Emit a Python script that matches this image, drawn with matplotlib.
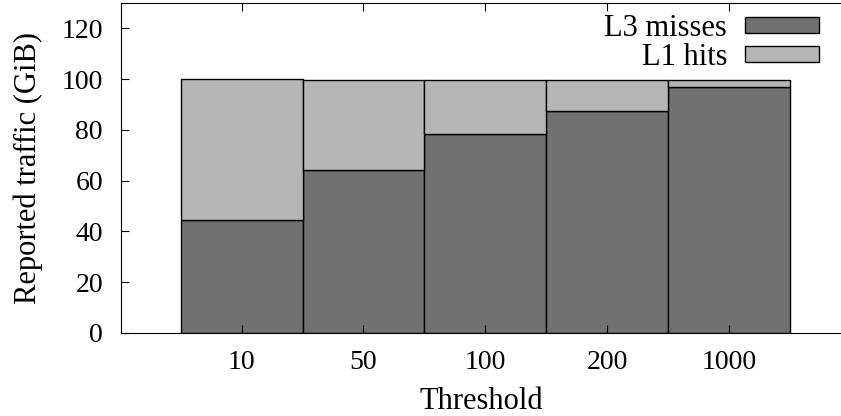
import matplotlib.pyplot as plt
from matplotlib.patches import Patch

plt.rcParams['font.family'] = ['Liberation Serif', 'DejaVu Serif']

# Data
thresholds = ['10', '50', '100', '200', '1000']
l3_misses = [44.6, 64.3, 78.2, 87.4, 96.9]
l1_hits = [55.4, 35.4, 21.6, 12.3, 2.8]

dark = '#717171'
light = '#b6b6b6'

fig = plt.figure(figsize=(8.41, 4.16), dpi=100)
ax = fig.add_axes([121/841, (416-333)/416, 1 - 121/841, 330/416])

x = range(len(thresholds))
ax.bar(x, l3_misses, width=1.0, color=dark, edgecolor='black', linewidth=1)
ax.bar(x, l1_hits, width=1.0, bottom=l3_misses, color=light, edgecolor='black', linewidth=1)

ax.set_xlim(-0.99, 4.92)
ax.set_ylim(0, 130)
ax.set_yticks(range(0, 121, 20))
ax.set_xticks(list(x))
ax.set_xticklabels(thresholds)
ax.spines['right'].set_visible(False)
ax.tick_params(axis='y', direction='in', length=6, labelsize=20, pad=13, right=False)
ax.tick_params(axis='x', direction='in', length=6, labelsize=20, pad=12.5, top=True)
ax.set_xlabel('Threshold', fontsize=22, labelpad=8.5)
ax.set_ylabel('Reported traffic (GiB)', fontsize=22, labelpad=13)

handles = [Patch(facecolor=dark, edgecolor='black', linewidth=1),
           Patch(facecolor=light, edgecolor='black', linewidth=1)]
ax.legend(handles, ['L3 misses', 'L1 hits'], loc='upper right',
          bbox_to_anchor=(0.969, 0.967), frameon=False, markerfirst=False,
          fontsize=22, handlelength=2.4, handleheight=0.46,
          handletextpad=0.6, labelspacing=0.0, borderpad=0.0,
          borderaxespad=0.0)

fig.savefig('out.png', dpi=100)
